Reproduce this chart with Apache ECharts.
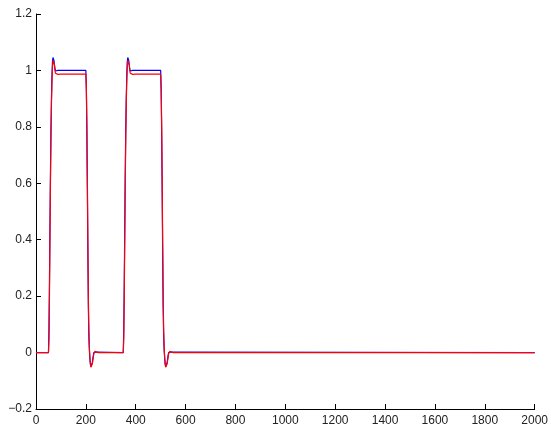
<!DOCTYPE html>
<html>
<head>
<meta charset="utf-8">
<script src="https://cdn.jsdelivr.net/npm/echarts@6/dist/echarts.min.js"></script>
<style>
  html, body { margin: 0; padding: 0; background: #fff; overflow: hidden; }
  #chart { width: 551px; height: 432px; }
</style>
</head>
<body>
<div id="chart"></div>
<script>
// Sample times shared by both responses
const time = [
  0, 50, 52, 54, 56, 58, 60, 62, 64, 66, 68, 70, 72, 74, 76, 78, 80, 84, 88, 92, 100,
  200, 202, 204, 206, 208, 210, 212, 214, 216, 218, 220, 222, 224, 226, 228, 230, 232, 236, 242, 250,
  350, 352, 354, 356, 358, 360, 362, 364, 366, 368, 370, 372, 374, 376, 378, 380, 384, 388, 392, 400,
  500, 502, 504, 506, 508, 510, 512, 514, 516, 518, 520, 522, 524, 526, 528, 530, 532, 536, 542, 550,
  2000
];

// Reference response (blue)
const blueValues = [
  0, 0, 0.08, 0.25, 0.45, 0.64, 0.79, 0.9, 0.98, 1.03, 1.046, 1.045, 1.035, 1.02, 1.006, 0.998, 0.995, 0.997, 1.0, 1.0, 1.0,
  1.0, 0.93, 0.78, 0.58, 0.36, 0.16, 0.06, 0.01, -0.02, -0.04, -0.05, -0.052, -0.045, -0.035, -0.022, -0.01, 0.0, 0.004, 0.002, 0,
  0, 0.08, 0.25, 0.45, 0.64, 0.79, 0.9, 0.98, 1.03, 1.046, 1.045, 1.035, 1.02, 1.006, 0.998, 0.995, 0.997, 1.0, 1.0, 1.0,
  1.0, 0.93, 0.78, 0.58, 0.36, 0.16, 0.06, 0.01, -0.02, -0.04, -0.05, -0.052, -0.045, -0.035, -0.022, -0.01, 0.0, 0.004, 0.002, 0,
  0
];

// Measured response (red)
const redValues = [
  0, 0, 0.05, 0.2, 0.4, 0.6, 0.76, 0.88, 0.96, 1.01, 1.035, 1.042, 1.035, 1.02, 1.0, 0.99, 0.984, 0.984, 0.986, 0.987, 0.987,
  0.987, 0.94, 0.81, 0.62, 0.4, 0.2, 0.08, 0.02, -0.015, -0.038, -0.052, -0.056, -0.05, -0.04, -0.028, -0.015, -0.004, 0.004, 0.002, 0,
  0, 0.05, 0.2, 0.4, 0.6, 0.76, 0.88, 0.96, 1.01, 1.035, 1.042, 1.035, 1.02, 1.0, 0.99, 0.984, 0.984, 0.986, 0.987, 0.987,
  0.987, 0.94, 0.81, 0.62, 0.4, 0.2, 0.08, 0.02, -0.015, -0.038, -0.052, -0.056, -0.05, -0.04, -0.028, -0.015, -0.004, 0.004, 0.002, 0,
  0
];

const xTicks = { min: 0, max: 2000, step: 200 };
const yTicks = { min: -0.2, max: 1.2, step: 0.2 };

function pairs(xs, ys) {
  return xs.map((x, i) => [x, ys[i]]);
}

const axisFont = { fontFamily: 'Liberation Sans, Arial, sans-serif', fontSize: 12, color: '#222' };

const chart = echarts.init(document.getElementById('chart'), null, { renderer: 'canvas', width: 551, height: 432 });
chart.setOption({
  animation: false,
  backgroundColor: '#fff',
  grid: { left: 36, right: 14, top: 14, bottom: 23, containLabel: false },
  xAxis: {
    type: 'value',
    min: xTicks.min, max: xTicks.max, interval: xTicks.step,
    axisLine: { show: true, onZero: false, lineStyle: { color: '#000', width: 1 } },
    axisTick: { show: true, inside: true, length: 5, lineStyle: { color: '#000' } },
    axisLabel: Object.assign({ margin: 6, formatter: v => String(v) }, axisFont),
    splitLine: { show: false }
  },
  yAxis: {
    type: 'value',
    min: yTicks.min, max: yTicks.max, interval: yTicks.step,
    axisLine: { show: true, onZero: false, lineStyle: { color: '#000', width: 1 } },
    axisTick: { show: true, inside: true, length: 5, lineStyle: { color: '#000' } },
    axisLabel: Object.assign({
      margin: 4,
      formatter: v => {
        const r = parseFloat(v.toFixed(1));
        return r < 0 ? '\u2212' + Math.abs(r) : String(r);
      }
    }, axisFont),
    splitLine: { show: false }
  },
  series: [
    {
      type: 'line', data: pairs(time, blueValues), showSymbol: false, smooth: false,
      lineStyle: { color: '#0000ff', width: 1.2 }, z: 2
    },
    {
      type: 'line', data: pairs(time, redValues), showSymbol: false, smooth: false,
      lineStyle: { color: '#ff0000', width: 1.2 }, z: 3
    }
  ]
});
</script>
</body>
</html>
